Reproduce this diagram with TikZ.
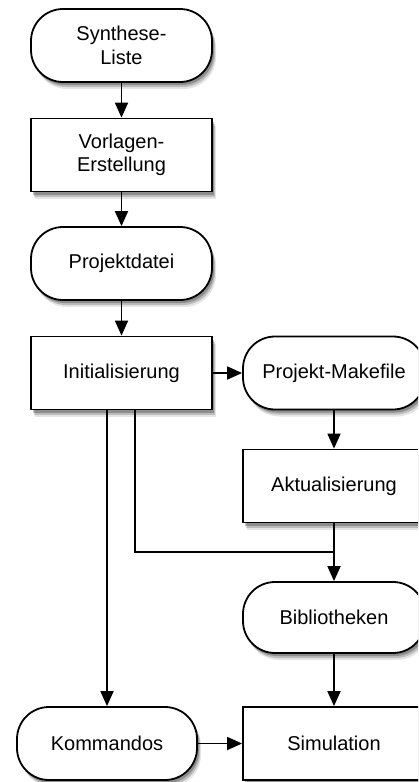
\documentclass[tikz,border=0pt]{standalone}
\usepackage{fontspec}
\setmainfont{Liberation Sans}
\usetikzlibrary{arrows.meta,shadows}
\begin{document}
\begin{tikzpicture}[x=1pt,y=-1pt,
  base/.style={draw=black, line width=1.8pt, fill=white, minimum width=181pt, minimum height=73pt,
    inner sep=0pt, align=center, font=\fontsize{20}{23.5}\selectfont,
    general shadow={shadow xshift=4pt, shadow yshift=-7pt, fill=black, opacity=0.10},
    general shadow={shadow xshift=3pt, shadow yshift=-5pt, fill=black, opacity=0.18},
    general shadow={shadow xshift=2pt, shadow yshift=-3pt, fill=black, opacity=0.25}},
  procbox/.style={base, rectangle},
  termbox/.style={base, rectangle, rounded corners=32pt},
  conn/.style={line width=1.8pt, -{Triangle[length=15pt,width=13pt]}},
  plainconn/.style={line width=1.8pt}]
\path[use as bounding box, clip] (0,0) rectangle (418,782);
\node[termbox] (syn) at (121.5,45.5) {Synthese-\\Liste};
\node[procbox] (vor) at (121.5,155) {Vorlagen-\\Erstellung};
\node[termbox] (proj) at (121.5,263.5) {Projektdatei};
\node[procbox] (init) at (121.5,373) {Initialisierung};
\node[termbox, minimum width=182pt] (make) at (334,373) {Projekt-Makefile};
\node[procbox, minimum width=182pt] (akt) at (334,486) {Aktualisierung};
\node[termbox, minimum width=182pt, minimum height=71pt] (bib) at (334,617.5) {Bibliotheken};
\node[termbox, minimum width=180pt] (kom) at (107,743.5) {Kommandos};
\node[procbox, minimum width=182pt] (sim) at (334,743.5) {Simulation};
\coordinate (join) at (334,552);
\draw[conn] (syn) -- (vor);
\draw[conn] (vor) -- (proj);
\draw[conn] (proj) -- (init);
\draw[conn] (init) -- (make);
\draw[conn] (make) -- (akt);
\draw[conn] (akt) -- (bib);
\draw[plainconn] (init.south -| 135,0) |- (join);
\draw[conn] (init.south -| kom.north) -- (kom.north);
\draw[conn] (bib) -- (sim);
\draw[conn] (kom) -- (sim);
\end{tikzpicture}
\end{document}
